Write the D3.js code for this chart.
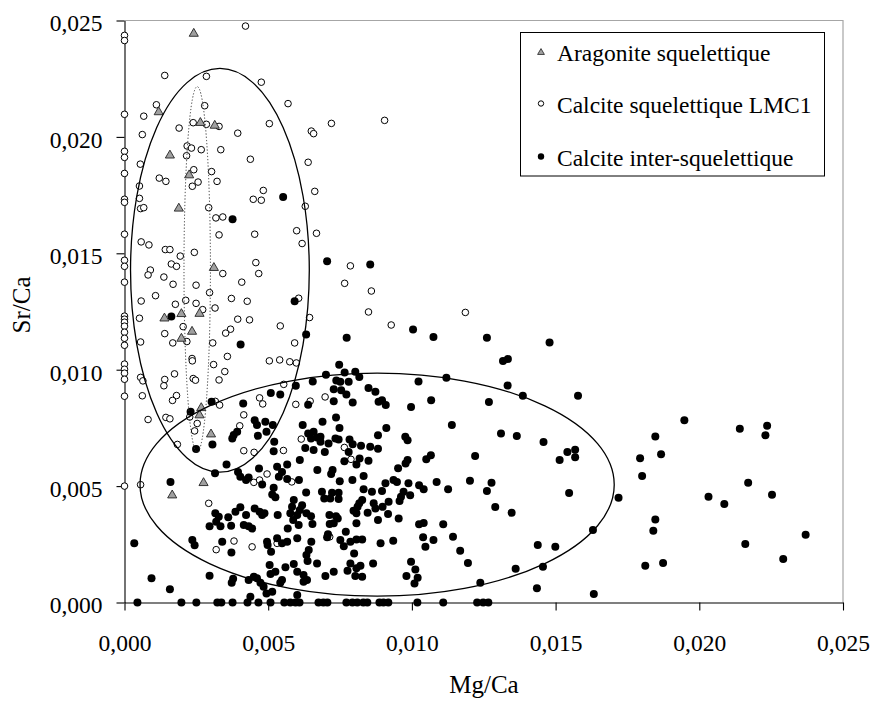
<!DOCTYPE html>
<html><head><meta charset="utf-8">
<script src="https://cdn.jsdelivr.net/npm/d3@7"></script>
<style>body{margin:0;background:#fff}svg{display:block}</style>
</head><body>
<svg id="c" width="872" height="701"></svg>
<script>
// ---- DATA (Mg/Ca, Sr/Ca) ----
const seriesNames = ["Aragonite squelettique", "Calcite squelettique LMC1", "Calcite inter-squelettique"];
const xTicks = [0, 0.005, 0.010, 0.015, 0.020, 0.025];
const yTicks = [0, 0.005, 0.010, 0.015, 0.020, 0.025];
const xTitle = "Mg/Ca";
const yTitle = "Sr/Ca";

const aragonite = [[0.00241,0.02447],[0.00119,0.02110],[0.00264,0.02064],[0.00314,0.02052],[0.00158,0.01924],[0.00225,0.01839],[0.00189,0.01696],[0.00311,0.01441],[0.00139,0.01224],[0.00198,0.01243],[0.00261,0.01244],[0.00235,0.01167],[0.00198,0.01137],[0.00267,0.00839],[0.00261,0.00808],[0.00301,0.00726],[0.00275,0.00517],[0.00166,0.00464]];

const calciteLMC1 = [[0,0.02436],[0,0.02414],[0,0.02097],[0,0.01938],[0,0.01912],[0,0.01843],[0,0.01732],[0,0.01719],[0,0.01582],[0,0.01470],[0,0.01444],[0,0.01376],[0,0.01230],[0,0.01217],[0,0.01204],[0,0.01187],[0,0.01161],[0,0.01135],[0,0.01105],[0,0.01024],[0,0.01002],[0,0.00985],[0,0.00959],[0,0.00886],[0,0.00500],
[0.00421,0.02476],[0.00140,0.02264],[0.00285,0.02260],[0.00476,0.02235],[0.00111,0.02138],[0.00279,0.02134],[0.00569,0.02143],[0.00067,0.02089],[0.00190,0.02038],[0.00239,0.02061],[0.00285,0.02054],[0.00329,0.02045],[0.00504,0.02057],[0.00720,0.02058],[0.00650,0.02025],[0.00658,0.02014],[0.00062,0.02010],[0.00394,0.02016],[0.00218,0.01961],[0.00233,0.01952],[0.00267,0.01945],[0.00335,0.01945],[0.00216,0.01919],[0.00438,0.01904],[0.00055,0.01883],[0.00639,0.01891],[0.00241,0.01859],[0.00303,0.01851],[0.00121,0.01823],[0.00144,0.01809],[0.00256,0.01806],[0.00236,0.01788],[0.00322,0.01809],[0.00052,0.01789],[0.00483,0.01770],[0.00448,0.01732],[0.00476,0.01728],[0.00662,0.01766],[0.00052,0.01736],[0.00056,0.01692],[0.00067,0.01696],[0.00293,0.01696],[0.00629,0.01702],[0.00318,0.01652],[0.00342,0.01656],[0.00329,0.01579],[0.00453,0.01582],[0.00599,0.01597],[0.00668,0.01586],[0.00058,0.01549],[0.00085,0.01536],[0.00142,0.01516],[0.00158,0.01516],[0.00243,0.01504],[0.00194,0.01488],[0.00618,0.01542],[0.00163,0.01454],[0.00181,0.01444],[0.00457,0.01460],[0.00090,0.01428],[0.00082,0.01407],[0.00137,0.01398],[0.00342,0.01413],[0.00467,0.01413],[0.00169,0.01367],[0.00249,0.01363],[0.00408,0.01376],[0.00296,0.01331],[0.00108,0.01318],[0.00372,0.01306],[0.00427,0.01294],[0.00058,0.01295],[0.00213,0.01298],[0.00249,0.01285],[0.00177,0.01281],[0.00272,0.01258],[0.00315,0.01265],[0.00606,0.01307],[0.00052,0.01221],[0.00394,0.01217],[0.00435,0.01214],[0.00644,0.01224],[0.00204,0.01185],[0.00369,0.01174],[0.00352,0.01157],[0.00542,0.01188],[0.00140,0.01155],[0.00168,0.01115],[0.00217,0.01121],[0.00307,0.01115],[0.00056,0.01119],[0.00592,0.01115],[0.00235,0.01048],[0.00236,0.01038],[0.00358,0.01057],[0.00504,0.01038],[0.00540,0.01042],[0.00575,0.01034],[0.00598,0.01029],[0.00310,0.01022],[0.00174,0.00982],[0.00349,0.00992],[0.00056,0.00967],[0.00064,0.00952],[0.00140,0.00958],[0.00137,0.00931],[0.00239,0.00962],[0.00247,0.00955],[0.00329,0.00956],[0.00062,0.00888],[0.00181,0.00889],[0.00167,0.00868],[0.00554,0.00937],[0.00470,0.00879],[0.00481,0.00853],[0.00316,0.00864],[0.00596,0.00851],[0.00646,0.00865],[0.00144,0.00795],[0.00158,0.00789],[0.00082,0.00786],[0.00227,0.00797],[0.00253,0.00769],[0.00244,0.00737],[0.00331,0.00848],[0.00415,0.00806],[0.00401,0.00759],[0.00184,0.00679],[0.00415,0.00652],[0.00451,0.00645],[0.00553,0.00653],[0.00615,0.00702],[0.00496,0.00552],[0.00450,0.00516],[0.00470,0.00526],[0.00582,0.00518],[0.00056,0.00506],[0.00293,0.00426],[0.00381,0.00264],[0.00319,0.00227],[0.00444,0.00239],[0.00531,0.00254],[0.00714,0.00282],[0.00849,0.01248],[0.00928,0.01192],[0.01186,0.01246],[0.00698,0.00883],[0.00765,0.00666],[0.00788,0.00615],[0.00905,0.02071],[0.00786,0.01446],[0.00766,0.01371],[0.00859,0.01338]];

const calciteInter = [[0.00552,0.01742],[0.00376,0.01646],[0.00705,0.01466],[0.00592,0.01294],[0.00163,0.01228],[0.00632,0.01151],[0.00404,0.01108],[0.00747,0.01021],[0.00701,0.00978],[0.00737,0.00954],[0.00728,0.00916],[0.00596,0.00931],[0.00655,0.00949],[0.00509,0.00900],[0.00542,0.00894],[0.00413,0.00855],[0.00639,0.00849],[0.00728,0.00865],[0.00303,0.00862],[0.00230,0.00819],[0.00855,0.01452],
[0.00249,0.00659],[0.00306,0.00679],[0.00355,0.00593],[0.00315,0.00555],[0.00160,0.00518],[0.00034,0.00254],[0.00236,0.00268],[0.00244,0.00246],[0.00094,0.00104],[0.00158,0.00057],[0.00296,0.00115],[0.00378,0.00102],[0.00373,0.00085],[0.00453,0.00783],[0.00461,0.00762],[0.00490,0.00776],[0.00516,0.00762],[0.00380,0.00719],[0.00392,0.00733],[0.00375,0.00705],[0.00464,0.00716],[0.00494,0.00733],[0.00521,0.00690],[0.00519,0.00650],[0.00610,0.00612],[0.00620,0.00762],[0.00639,0.00726],[0.00658,0.00733],[0.00670,0.00709],[0.00649,0.00705],[0.00689,0.00776],[0.00682,0.00690],[0.00710,0.00683],[0.00697,0.00647],[0.00629,0.00664],[0.00658,0.00655],[0.00734,0.00705],[0.00531,0.00583],[0.00548,0.00561],[0.00566,0.00593],[0.00468,0.00576],[0.00395,0.00561],[0.00403,0.00540],[0.00423,0.00526],[0.00432,0.00537],[0.00479,0.00507],[0.00537,0.00540],[0.00566,0.00530],[0.00607,0.00526],[0.00671,0.00569],[0.00724,0.00569],[0.00719,0.00552],[0.00519,0.00493],[0.00514,0.00464],[0.00525,0.00452],[0.00632,0.00473],[0.00687,0.00476],[0.00722,0.00471],[0.00695,0.00447],[0.00716,0.00447],[0.00589,0.00440],[0.00583,0.00411],[0.00618,0.00418],[0.00610,0.00397],[0.00633,0.00383],[0.00649,0.00371],[0.00654,0.00337],[0.00577,0.00383],[0.00601,0.00376],[0.00587,0.00354],[0.00533,0.00376],[0.00606,0.00333],[0.00568,0.00318],[0.00713,0.00376],[0.00736,0.00371],[0.00728,0.00340],[0.00708,0.00293],[0.00316,0.00383],[0.00328,0.00368],[0.00319,0.00347],[0.00334,0.00328],[0.00296,0.00328],[0.00361,0.00366],[0.00371,0.00330],[0.00386,0.00390],[0.00403,0.00409],[0.00423,0.00376],[0.00415,0.00333],[0.00432,0.00328],[0.00444,0.00318],[0.00453,0.00404],[0.00470,0.00390],[0.00479,0.00376],[0.00487,0.00383],[0.00340,0.00261],[0.00372,0.00215],[0.00496,0.00261],[0.00498,0.00247],[0.00510,0.00218],[0.00531,0.00276],[0.00548,0.00254],[0.00566,0.00261],[0.00601,0.00276],[0.00650,0.00261],[0.00641,0.00225],[0.00633,0.00204],[0.00637,0.00178],[0.00505,0.00161],[0.00525,0.00132],[0.00508,0.00122],[0.00560,0.00151],[0.00589,0.00165],[0.00601,0.00132],[0.00623,0.00118],[0.00670,0.00168],[0.00699,0.00114],[0.00728,0.00132],[0.00432,0.00097],[0.00450,0.00111],[0.00461,0.00104],[0.00473,0.00085],[0.00484,0.00068],[0.00494,0.00039],[0.00514,0.00046],[0.00542,0.00085],[0.00548,0.00097],[0.00438,0.00025],[0.00601,0.00032],[0.00623,0.00089],[0.00635,0.00097],
[0.00773,0.01137],[0.01004,0.01173],[0.01075,0.01140],[0.01261,0.01137],[0.01479,0.01117],[0.00766,0.00988],[0.00803,0.00991],[0.00817,0.00969],[0.00751,0.00948],[0.00780,0.00948],[0.00754,0.00912],[0.00772,0.00894],[0.00794,0.00859],[0.00849,0.00921],[0.00873,0.00905],[0.00896,0.00869],[0.00884,0.00862],[0.00909,0.00848],[0.01023,0.00949],[0.01120,0.00965],[0.01067,0.00869],[0.00997,0.00840],[0.01268,0.00861],[0.01317,0.01037],[0.01334,0.01046],[0.01333,0.00932],[0.01386,0.00888],[0.00736,0.00795],[0.00748,0.00750],[0.00911,0.00750],[0.00882,0.00718],[0.01139,0.00762],[0.01310,0.00726],[0.01365,0.00715],[0.01458,0.00689],[0.00977,0.00712],[0.00985,0.00697],[0.00682,0.00712],[0.00745,0.00700],[0.00783,0.00700],[0.00794,0.00680],[0.00823,0.00673],[0.00780,0.00647],[0.00855,0.00669],[0.00882,0.00660],[0.00818,0.00619],[0.00807,0.00593],[0.00765,0.00607],[0.00849,0.00609],[0.00793,0.00526],[0.00749,0.00521],[0.00832,0.00543],[0.00952,0.00577],[0.00978,0.00597],[0.00985,0.00612],[0.01050,0.00615],[0.01066,0.00633],[0.01220,0.00629],[0.01514,0.00612],[0.01541,0.00646],[0.00908,0.00512],[0.00936,0.00526],[0.00948,0.00518],[0.00988,0.00512],[0.01025,0.00504],[0.01041,0.00486],[0.01086,0.00518],[0.01126,0.00486],[0.01202,0.00523],[0.01277,0.00514],[0.01261,0.00479],[0.00745,0.00471],[0.00745,0.00445],[0.00832,0.00486],[0.00861,0.00476],[0.00896,0.00479],[0.00971,0.00476],[0.00962,0.00454],[0.00957,0.00436],[0.00994,0.00461],[0.00919,0.00433],[0.00827,0.00440],[0.00817,0.00426],[0.00811,0.00411],[0.00797,0.00394],[0.00807,0.00383],[0.00867,0.00426],[0.00873,0.00404],[0.00898,0.00411],[0.00917,0.00380],[0.00846,0.00385],[0.00742,0.00361],[0.00714,0.00337],[0.00807,0.00340],[0.00882,0.00354],[0.00954,0.00361],[0.01025,0.00336],[0.01041,0.00342],[0.01109,0.00336],[0.01290,0.00410],[0.01347,0.00385],[0.00770,0.00304],[0.00705,0.00280],[0.00751,0.00268],[0.00763,0.00242],[0.00786,0.00261],[0.00807,0.00271],[0.00827,0.00271],[0.00891,0.00254],[0.00935,0.00265],[0.01039,0.00280],[0.01047,0.00239],[0.01075,0.00268],[0.01143,0.00282],[0.01168,0.00222],[0.01195,0.00170],[0.00799,0.00211],[0.00786,0.00168],[0.00776,0.00136],[0.00807,0.00147],[0.00821,0.00158],[0.00803,0.00114],[0.00827,0.00111],[0.00865,0.00168],[0.00997,0.00175],[0.01012,0.00142],[0.00981,0.00114],[0.01020,0.00106],[0.01009,0.00082],[0.01238,0.00085],[0.01361,0.00145],[0.01438,0.00247],[0.01499,0.00239],[0.01456,0.00154],[0.01435,0.00061],
[0.01578,0.00888],[0.01568,0.00656],[0.01568,0.00624],[0.01547,0.00470],[0.01719,0.00450],[0.01630,0.00311],[0.01633,0.00036],[0.01948,0.00783],[0.01847,0.00713],[0.01867,0.00637],[0.01794,0.00620],[0.01801,0.00543],[0.01847,0.00357],[0.01840,0.00308],[0.01812,0.00158],[0.01874,0.00170],[0.02032,0.00454],[0.02087,0.00423],[0.02141,0.00746],[0.02236,0.00759],[0.02230,0.00718],[0.02170,0.00514],[0.02253,0.00463],[0.02160,0.00251],[0.02292,0.00187],[0.02370,0.00291],
[0.00045,0],[0.00198,0],[0.00250,0],[0.00323,0],[0.00337,0],[0.00376,0],[0.00428,0],[0.00466,0],[0.00508,0],[0.00556,0],[0.00577,0],[0.00595,0],[0.00609,0],[0.00675,0],[0.00692,0],[0.00706,0],[0.00772,0],[0.00793,0],[0.00810,0],[0.00831,0],[0.00845,0],[0.00887,0],[0.00901,0],[0.00918,0],[0.01019,0],[0.01109,0],[0.01227,0],[0.01248,0],[0.01266,0]];

// Enveloping ellipses in data units: centre (Mg/Ca, Sr/Ca) and semi-axes
const ellipseCx = [0.00332, 0.00253, 0.00879];
const ellipseCy = [0.01427, 0.01431, 0.00506];
const ellipseRx = [0.00311, 0.00046, 0.00825];
const ellipseRy = [0.00867, 0.00785, 0.00479];
const ellipseDotted = [false, true, false];

// ---- DRAWING ----
const FONT = "'Liberation Serif','Times New Roman',serif";
const svg = d3.select("#c");
const x = d3.scaleLinear().domain([0, 0.025]).range([124.5, 843]);
const y = d3.scaleLinear().domain([0, 0.025]).range([602.5, 20.5]);
const fmt = d => d3.format(".3f")(d).replace(".", ",");

// plot area grey border (top & right)
svg.append("path")
  .attr("d", `M${x(0)},${y(0.025)}H${x(0.025)}V${y(0)}`)
  .attr("fill", "none").attr("stroke", "#a6a6a6").attr("stroke-width", 1.2);

// axes
const gy = svg.append("g").attr("transform", `translate(${x(0)},0)`)
  .call(d3.axisLeft(y).tickValues(yTicks).tickSize(8).tickSizeOuter(0).tickPadding(14).tickFormat(fmt));
const gx = svg.append("g").attr("transform", `translate(0,${y(0)})`)
  .call(d3.axisBottom(x).tickValues(xTicks).tickSize(8).tickSizeOuter(0).tickPadding(24).tickFormat(fmt));
[gy, gx].forEach(g => {
  g.selectAll("path,line").attr("stroke", "#000").attr("stroke-width", 1.1);
  g.selectAll("text").attr("font-family", FONT).attr("font-size", 23.5).attr("fill", "#000");
});
gy.selectAll("text").attr("dy", "0.44em");

// points
const pts = svg.append("g");
pts.selectAll("circle.o").data(calciteLMC1).join("circle").attr("class", "o")
  .attr("cx", d => x(d[0])).attr("cy", d => y(d[1])).attr("r", 3.3)
  .attr("fill", "#fff").attr("stroke", "#000").attr("stroke-width", 1);
pts.selectAll("circle.f").data(calciteInter).join("circle").attr("class", "f")
  .attr("cx", d => x(d[0])).attr("cy", d => y(d[1])).attr("r", 4)
  .attr("fill", "#000");
const tri = d3.symbol().type(d3.symbolTriangle).size(36);
pts.selectAll("path.t").data(aragonite).join("path").attr("class", "t")
  .attr("d", tri).attr("transform", d => `translate(${x(d[0])},${y(d[1]) + 0.8})`)
  .attr("fill", "#a0a0a0").attr("stroke", "#222").attr("stroke-width", 0.9);

// ellipses
svg.append("g").selectAll("ellipse").data(ellipseCx.map((c, i) => i)).join("ellipse")
  .attr("cx", i => x(ellipseCx[i])).attr("cy", i => y(ellipseCy[i]))
  .attr("rx", i => x(ellipseRx[i]) - x(0)).attr("ry", i => y(0) - y(ellipseRy[i]))
  .attr("fill", "none").attr("stroke", i => ellipseDotted[i] ? "#333" : "#000")
  .attr("stroke-width", i => ellipseDotted[i] ? 1 : 1.3)
  .attr("stroke-dasharray", i => ellipseDotted[i] ? "1.2,2" : null);

// legend
const lg = svg.append("g");
lg.append("rect").attr("x", 520.5).attr("y", 32.5).attr("width", 304).attr("height", 143.5)
  .attr("fill", "#fff").attr("stroke", "#000").attr("stroke-width", 1);
const rowY = [52, 103.5, 156.5];
lg.append("path").attr("d", d3.symbol().type(d3.symbolTriangle).size(20)())
  .attr("transform", `translate(541,${rowY[0] + 0.5})`).attr("fill", "#a0a0a0").attr("stroke", "#222").attr("stroke-width", 0.8);
lg.append("circle").attr("cx", 541).attr("cy", rowY[1]).attr("r", 2.7).attr("fill", "#fff").attr("stroke", "#000");
lg.append("circle").attr("cx", 541).attr("cy", rowY[2]).attr("r", 3.2).attr("fill", "#000");
lg.selectAll("text").data(seriesNames).join("text")
  .attr("x", 557).attr("y", (d, i) => rowY[i] + 9).text(d => d)
  .attr("font-family", FONT).attr("font-size", 23.5).attr("fill", "#000");

// axis titles
svg.append("text").attr("x", 484).attr("y", 693).attr("text-anchor", "middle")
  .attr("font-family", FONT).attr("font-size", 25).text(xTitle);
svg.append("text").attr("transform", "translate(30,305) rotate(-90)").attr("text-anchor", "middle")
  .attr("font-family", FONT).attr("font-size", 25).text(yTitle);
</script>
</body></html>
